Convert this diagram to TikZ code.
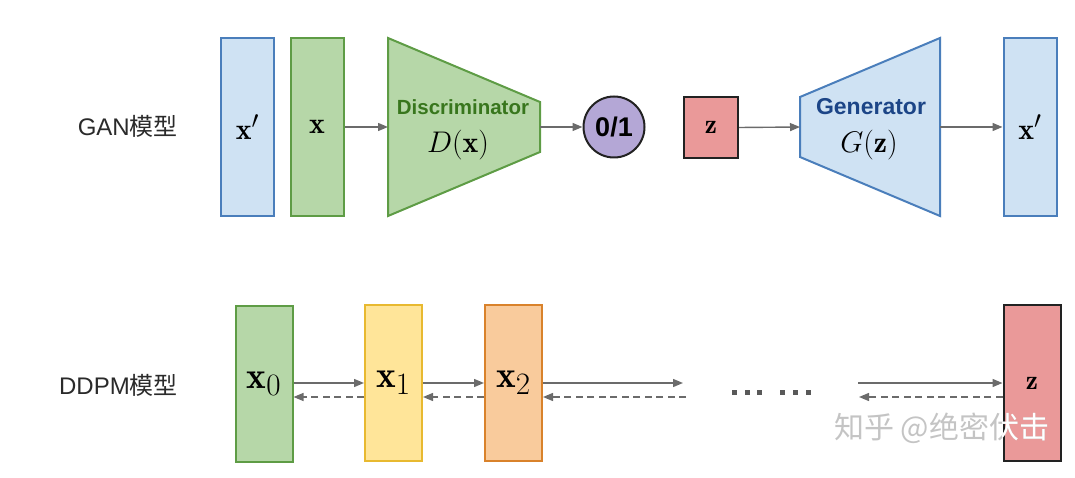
\RequirePackage{fix-cm}
\documentclass[tikz,border=0pt]{standalone}
\usepackage{fontspec}
\usepackage{graphicx}
\setsansfont{Liberation Sans}
\newfontfamily\cjk{Noto Sans CJK SC}
\usetikzlibrary{arrows.meta}
\definecolor{bluefill}{HTML}{CFE2F3}
\definecolor{blueline}{HTML}{4A7EBB}
\definecolor{greenfill}{HTML}{B6D7A8}
\definecolor{greenline}{HTML}{5E9C45}
\definecolor{yellowfill}{HTML}{FFE599}
\definecolor{yellowline}{HTML}{E8B930}
\definecolor{orangefill}{HTML}{F9CB9C}
\definecolor{orangeline}{HTML}{D9822B}
\definecolor{redfill}{HTML}{EA9999}
\definecolor{darkline}{HTML}{222222}
\definecolor{purplefill}{HTML}{B4A7D6}
\definecolor{arrowgray}{HTML}{6B6B6B}
\definecolor{discgreen}{HTML}{38761D}
\definecolor{genblue}{HTML}{1C4587}
\definecolor{labelgray}{HTML}{2A2A2A}
\definecolor{wmgray}{HTML}{C4C4C4}
\newcommand{\mbig}[1]{\scalebox{1.2}{$#1$}}
\newcommand{\mddpm}[1]{\scalebox{1.5}{$#1$}}
\newcommand{\mzed}[1]{\scalebox{1.1}{$#1$}}
\tikzset{
  box/.style={rectangle, draw, line width=2pt, inner sep=0pt},
  bluebox/.style={box, draw=blueline, fill=bluefill},
  greenbox/.style={box, draw=greenline, fill=greenfill},
  yellowbox/.style={box, draw=yellowline, fill=yellowfill},
  orangebox/.style={box, draw=orangeline, fill=orangefill},
  redbox/.style={box, draw=darkline, fill=redfill},
  tallgan/.style={minimum width=53pt, minimum height=178pt},
  tallddpm/.style={minimum width=57pt, minimum height=156pt},
  mathsz/.style={font=\fontsize{24.88}{28}\selectfont},
  conn/.style={draw=arrowgray, line width=1.4pt, -{Triangle[length=10pt,width=8pt]}},
  dconn/.style={conn, dash pattern=on 7pt off 4.5pt},
  modellabel/.style={text=labelgray, font=\sffamily\fontsize{24}{28}\selectfont, anchor=east, inner sep=0pt},
  wm/.style={font=\cjk\fontsize{30}{34}\selectfont, anchor=west, inner sep=0pt},
}
\begin{document}
\begin{tikzpicture}[x=1pt, y=-1pt]
\useasboundingbox (0,0) rectangle (1075,478);

% ---------------- GAN row ----------------
\node[modellabel] (ganlabel) at (178,126) {GAN{\cjk 模型}};

\node[bluebox, tallgan, mathsz] (xp1) at (247.5,127) {\mbig{\mathbf{x}'}};
\node[greenbox, tallgan, mathsz] (x) at (317,127) {\mbig{\mathbf{x}}};

% Discriminator trapezoid
\draw[line width=2pt, draw=greenline, fill=greenfill]
  (388,38) -- (540,102) -- (540,152) -- (388,216) -- cycle;
\coordinate (Din) at (388,127);
\coordinate (Dout) at (540,127);
\node[text=discgreen, font=\sffamily\bfseries\fontsize{20.5}{24}\selectfont] (disc) at (463,107) {Discriminator};
\node[mathsz] (dx) at (458,145) {\mbig{D(\mathbf{x})}};

\node[circle, draw=darkline, line width=2pt, fill=purplefill, minimum size=61pt, inner sep=0pt,
      font=\sffamily\bfseries\fontsize{27}{30}\selectfont] (out) at (614,127) {0/1};

\node[redbox, minimum width=54pt, minimum height=61pt, mathsz] (z) at (711,127.5) {\mzed{\mathbf{z}}};

% Generator trapezoid
\draw[line width=2pt, draw=blueline, fill=bluefill]
  (800,97) -- (940,38) -- (940,216) -- (800,157) -- cycle;
\coordinate (Gin) at (800,127);
\coordinate (Gout) at (940,127);
\node[text=genblue, font=\sffamily\bfseries\fontsize{23}{27}\selectfont] (gen) at (871,107) {Generator};
\node[mathsz] (gz) at (869,145) {\mbig{G(\mathbf{z})}};

\node[bluebox, tallgan, mathsz] (xp2) at (1030,127) {\mbig{\mathbf{x}'}};

\draw[conn] (x.east) -- (Din);
\draw[conn] (Dout) -- (out.west);
\draw[conn] (z.east) -- (Gin);
\draw[conn] (Gout) -- (xp2.west);

% ---------------- DDPM row ----------------
\node[modellabel] (ddpmlabel) at (178,385) {DDPM{\cjk 模型}};

\node[greenbox, tallddpm, mathsz] (x0) at (264,384) {\mddpm{\mathbf{x}_0}};
\node[yellowbox, tallddpm, mathsz] (x1) at (393.5,383) {\mddpm{\mathbf{x}_1}};
\node[orangebox, tallddpm, mathsz] (x2) at (513.5,383) {\mddpm{\mathbf{x}_2}};
\node[redbox, tallddpm, mathsz] (zT) at (1032,383) {\mzed{\mathbf{z}}};

\coordinate (m1) at (683,383);
\coordinate (m2) at (858,383);
\coordinate (d1) at (686,397);
\coordinate (d2) at (859,397);

\draw[conn] (x0.east |- 0,383) -- (x1.west |- 0,383);
\draw[conn] (x1.east |- 0,383) -- (x2.west |- 0,383);
\draw[conn] (x2.east |- 0,383) -- (m1);
\draw[conn] (m2) -- (zT.west |- 0,383);

\draw[dconn] (x1.west |- 0,397) -- (x0.east |- 0,397);
\draw[dconn] (x2.west |- 0,397) -- (x1.east |- 0,397);
\draw[dconn] (d1) -- (x2.east |- 0,397);
\draw[dconn] (zT.west |- 0,397) -- (d2);

% dots
\foreach \px in {734,747,759,782,795,808}
  \fill[fill=black!65] (\px-2.5,389.5) rectangle (\px+2.5,394.5);

% watermark
\node[wm, text=wmgray] (wm1) at (834,428) {知乎 @绝密伏击};
\begin{scope}
  \clip (zT.north west) rectangle (zT.south east);
  \node[wm, text=white] (wm2) at (834,428) {知乎 @绝密伏击};
\end{scope}
\end{tikzpicture}
\end{document}
